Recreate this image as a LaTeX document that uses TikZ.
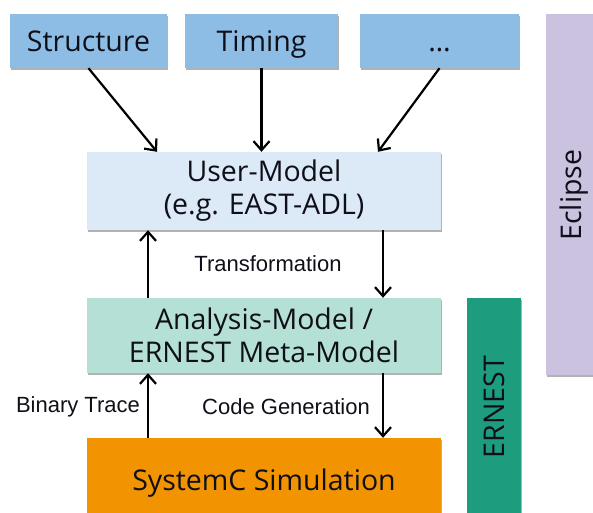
\documentclass[tikz,border=0pt]{standalone}
\usepackage{fontspec}
\setmainfont{Open Sans}
\newfontfamily\lblfont{Liberation Sans}
\usetikzlibrary{arrows.meta,shadows}

\definecolor{inputblue}{RGB}{141,189,228}
\definecolor{userblue}{RGB}{220,233,246}
\definecolor{analysismint}{RGB}{181,224,214}
\definecolor{simorange}{RGB}{242,148,2}
\definecolor{ernestteal}{RGB}{30,157,126}
\definecolor{eclipselilac}{RGB}{202,194,223}
\definecolor{textdark}{RGB}{15,15,25}

\tikzset{
  box/.style={draw=none, inner sep=0pt, align=center, text=textdark,
    font=\fontsize{28.5}{33}\selectfont,
    drop shadow={shadow xshift=1.2pt, shadow yshift=-2pt, opacity=0.3, fill=black}},
  oneline/.style={text height=25pt, text depth=5pt},
  flow/.style={line width=2.2pt, -{Straight Barb[length=9pt,width=16pt,line width=2.2pt]}},
  lbl/.style={font=\lblfont\fontsize{22}{26}\selectfont, text=textdark, inner sep=0pt}
}

\begin{document}
\begin{tikzpicture}[x=1pt,y=-1pt]
\useasboundingbox (0,0) rectangle (593,512);
\clip (0,0) rectangle (593,512);

% side bars
\node[box, fill=eclipselilac, minimum width=52pt, minimum height=361pt] (eclipse) at (572,194.5) {};
\node[font=\fontsize{28.5}{33}\selectfont, text=textdark, rotate=90, text height=25pt, text depth=5pt] (eclipsetxt) at (571,195) {Eclipse};
\node[box, oneline, fill=ernestteal, minimum width=218pt, minimum height=54pt, rotate=90] (ernest) at (494,407) {ERNEST};

% input models
\node[box, oneline, fill=inputblue, minimum width=157pt, minimum height=54pt] (s) at (88.5,41) {Structure};
\node[box, oneline, fill=inputblue, minimum width=153pt, minimum height=54pt] (t) at (261.5,41) {Timing};
\node[box, oneline, fill=inputblue, minimum width=159pt, minimum height=54pt] (d) at (439.5,41) {\dots};

% model chain
\node[box, fill=userblue, minimum width=354pt, minimum height=78pt] (u) at (264,191) {User-Model\\(e.g. EAST-ADL)};
\node[box, fill=analysismint, minimum width=354pt, minimum height=75pt] (a) at (264,335.5) {Analysis-Model /\\ERNEST Meta-Model};
\node[box, oneline, fill=simorange, minimum width=354pt, minimum height=84pt] (sim) at (264,480) {SystemC Simulation};

% inputs into the user model
\draw[flow] (s.south) -- ([xshift=-107pt]u.north);
\draw[flow] (t.south) -- (t.south |- u.north);
\draw[flow] (d.south) -- ([xshift=114pt]u.north);

% transformation between user and analysis model
\draw[flow] ([xshift=119pt]u.south) -- ([xshift=119pt]a.north);
\draw[flow] ([xshift=-116pt]a.north) -- ([xshift=-116pt]u.south);
\node[lbl] (trans) at (268,264) {Transformation};

% code generation and trace feedback
\draw[flow] ([xshift=119pt]a.south) -- ([xshift=119pt]sim.north);
\draw[flow] ([xshift=-116pt]sim.north) -- ([xshift=-116pt]a.south);
\node[lbl] (trace) at (78,407) {Binary Trace};
\node[lbl] (codegen) at (286,407) {Code Generation};
\end{tikzpicture}
\end{document}
